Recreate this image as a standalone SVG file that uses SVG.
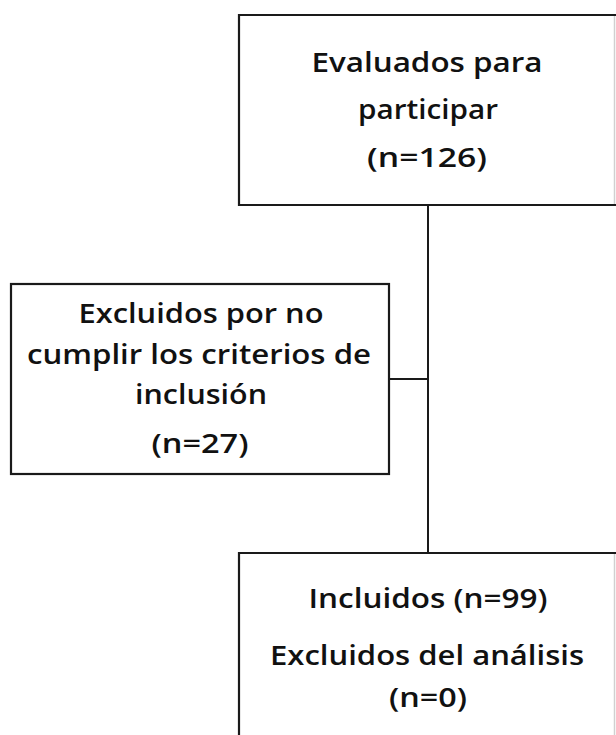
<svg xmlns="http://www.w3.org/2000/svg" width="616" height="735" viewBox="0 0 616 735">
<style>
.box{fill:#fff;stroke:#1a1a1a;stroke-width:2.2}
.edge{stroke:#d0d0d0;stroke-width:1.5}
.conn{fill:none;stroke:#1a1a1a;stroke-width:2}
text{font-family:"Open Sans","Noto Sans","Liberation Sans",sans-serif;font-size:27.5px;font-weight:600;fill:#111;text-anchor:middle}
</style>
<rect width="616" height="735" fill="#fff"/>
<g id="connectors">
<line class="conn" x1="428" y1="205" x2="428" y2="553"/>
<line class="conn" x1="389" y1="379" x2="428" y2="379"/>
</g>
<g id="node-evaluados">
<path class="box" d="M616,15 H239 V205 H616"/>
<line class="edge" x1="614.5" y1="16" x2="614.5" y2="204"/>
<text x="427" y="71.5" textLength="231" lengthAdjust="spacingAndGlyphs">Evaluados para</text>
<text x="428" y="118.5" textLength="140" lengthAdjust="spacingAndGlyphs">participar</text>
<text x="427" y="166.5" textLength="120" lengthAdjust="spacingAndGlyphs">(n=126)</text>
</g>
<g id="node-excluidos">
<rect class="box" x="11" y="284" width="378" height="190"/>
<text x="201" y="322.5" textLength="245" lengthAdjust="spacingAndGlyphs">Excluidos por no</text>
<text x="199" y="364" textLength="344" lengthAdjust="spacingAndGlyphs">cumplir los criterios de</text>
<text x="201" y="403.5" textLength="132" lengthAdjust="spacingAndGlyphs">inclusión</text>
<text x="200" y="453" textLength="97" lengthAdjust="spacingAndGlyphs">(n=27)</text>
</g>
<g id="node-incluidos">
<path class="box" d="M616,553 H239 V740"/>
<line class="edge" x1="614.5" y1="554" x2="614.5" y2="735"/>
<text x="428" y="608" textLength="239" lengthAdjust="spacingAndGlyphs">Incluidos (n=99)</text>
<text x="427" y="665" textLength="314" lengthAdjust="spacingAndGlyphs">Excluidos del análisis</text>
<text x="428" y="707" textLength="78" lengthAdjust="spacingAndGlyphs">(n=0)</text>
</g>
</svg>
